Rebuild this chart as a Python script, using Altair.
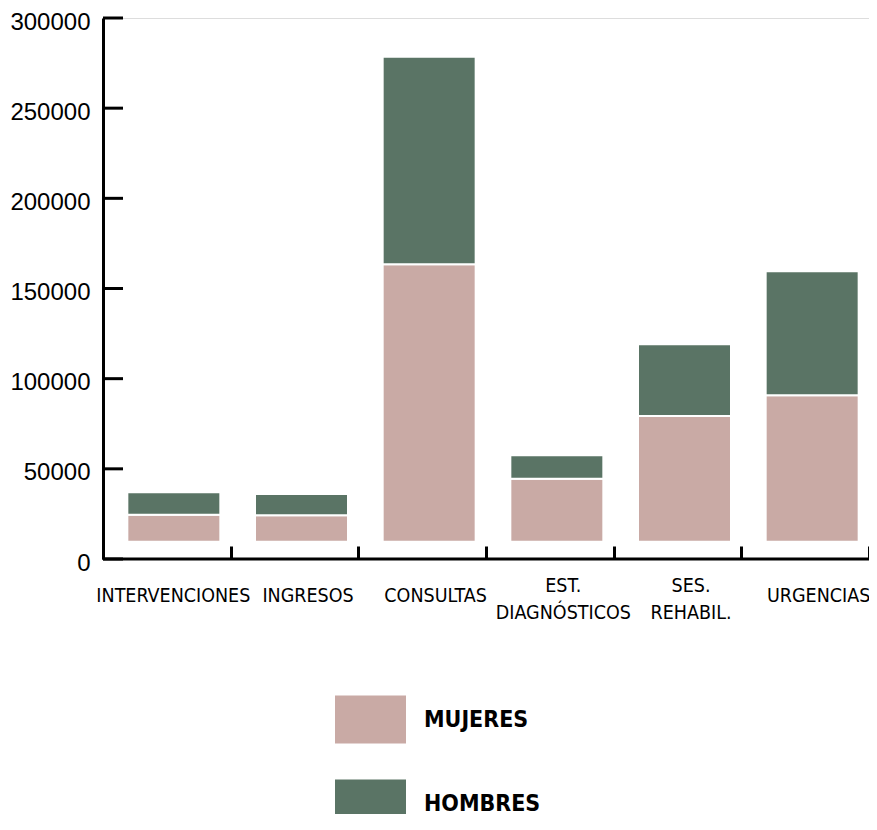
import altair as alt
import pandas as pd

CATEGORIES = ["INTERVENCIONES", "INGRESOS", "CONSULTAS", "EST. DIAGNÓSTICOS", "SES. REHABIL.", "URGENCIAS"]
MUJERES = [15100, 14700, 153900, 35000, 69800, 81300]
HOMBRES = [12400, 11800, 115100, 13000, 39800, 68700]
BASE = 9500
SERIES = ["MUJERES", "HOMBRES"]
COLORS = ["#C9AAA5", "#5A7465"]
Y_TICKS = [0, 50000, 100000, 150000, 200000, 250000, 300000]
TWO_LINE = [c for c in CATEGORIES if " " in c]

W, H = 766, 541
NARROW = "'Liberation Sans Narrow', 'Arial Narrow', 'DejaVu Sans Condensed', sans-serif"
REG = "'Liberation Sans', Arial, sans-serif"

rows = []
for c, m, h in zip(CATEGORIES, MUJERES, HOMBRES):
    rows.append({"cat": c, "sexo": "MUJERES", "y0": BASE, "y1": BASE + m})
    rows.append({"cat": c, "sexo": "HOMBRES", "y0": BASE + m, "y1": BASE + m + h})
df = pd.DataFrame(rows)

two_line_test = " || ".join("datum.value === '%s'" % c for c in TWO_LINE)
first_test = "datum.value === '%s'" % CATEGORIES[0]

yscale = alt.Scale(domain=[0, 300000], nice=False, zero=True)
xscale = alt.Scale(domain=CATEGORIES, paddingInner=0, paddingOuter=0)

bars = alt.Chart(df).mark_bar(width=93, xOffset=7, stroke="white", strokeWidth=2).encode(
    x=alt.X("cat:N", sort=CATEGORIES, scale=xscale,
            axis=alt.Axis(title=None, domain=False, ticks=True, tickSize=13, tickWidth=3,
                          tickColor="black", tickBand="extent", offset=-13, labelAngle=0,
                          labelFont=NARROW, labelFontSize=19.5, labelColor="black",
                          labelPadding=36,
                          labelBaseline={"condition": {"test": two_line_test, "value": "bottom"},
                                         "value": "middle"},
                          labelOffset={"condition": {"test": first_test, "value": 6},
                                       "value": 13},
                          labelLineHeight=27,
                          labelExpr="split(datum.label, ' ')",
                          labelOverlap=False, labelLimit=0)),
    y=alt.Y("y0:Q", scale=yscale,
            axis=alt.Axis(title=None, values=Y_TICKS, format="d", domain=True, domainWidth=3,
                          domainColor="black", ticks=False, grid=False, labelFont=REG,
                          labelFontSize=24, labelColor="black", labelPadding=13, labelOffset=4)),
    y2="y1:Q",
    color=alt.Color("sexo:N", scale=alt.Scale(domain=SERIES, range=COLORS),
                    legend=alt.Legend(title=None, orient="none", legendX=232, legendY=666,
                                      direction="vertical",
                                      symbolType="M-1,-0.676L1,-0.676L1,0.676L-1,0.676Z",
                                      symbolSize=5041, symbolStrokeWidth=0, symbolOpacity=1,
                                      labelFont=NARROW, labelFontSize=23, labelFontWeight="bold",
                                      labelColor="black", labelOffset=18, rowPadding=24)),
)

yticks = alt.Chart(pd.DataFrame({"t": Y_TICKS})).mark_rule(strokeWidth=3, color="black").encode(
    y=alt.Y("t:Q", scale=yscale), x=alt.value(0), x2=alt.value(20)
)

xdomain = alt.Chart(pd.DataFrame({"t": [0]})).mark_rule(strokeWidth=3, color="black").encode(
    y=alt.Y("t:Q", scale=yscale), x=alt.value(0), x2=alt.value(W)
)

chart = alt.layer(bars, yticks, xdomain).properties(
    width=W, height=H,
    autosize=alt.AutoSizeParams(type="none"),
    padding={"left": 95, "top": 10, "right": 0, "bottom": 255},
).configure_view(stroke="transparent", strokeWidth=0).configure(background="white")

chart.save("out.html", embed_options={"renderer": "svg", "actions": False})
